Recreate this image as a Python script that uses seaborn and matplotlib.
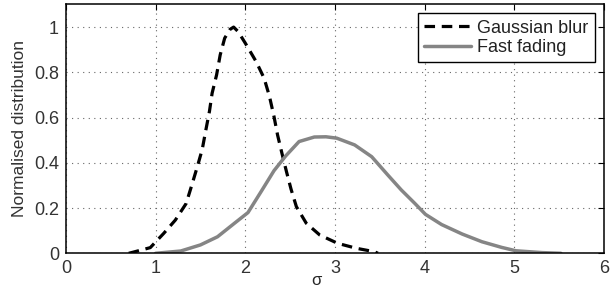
import matplotlib
matplotlib.use("Agg")
import matplotlib.pyplot as plt
import seaborn as sns
import pandas as pd

# Data
gauss_x = [0.70, 0.74, 0.94, 1.09, 1.22, 1.34, 1.41, 1.47, 1.52, 1.56, 1.60, 1.63, 1.68,
           1.72, 1.77, 1.83, 1.87, 1.92, 2.00, 2.12, 2.21, 2.27, 2.32, 2.36, 2.41, 2.46,
           2.51, 2.57, 2.68, 2.83, 3.03, 3.24, 3.44, 3.48]
gauss_y = [0.0, 0.004, 0.025, 0.088, 0.147, 0.22, 0.31, 0.39, 0.46, 0.545, 0.627, 0.708,
           0.789, 0.877, 0.951, 0.99, 1.0, 0.98, 0.929, 0.848, 0.774, 0.693, 0.605, 0.523,
           0.44, 0.36, 0.284, 0.206, 0.133, 0.081, 0.044, 0.022, 0.007, 0.0]
fade_x = [1.00, 1.28, 1.50, 1.69, 1.88, 2.03, 2.18, 2.32, 2.45, 2.60, 2.77, 2.90, 3.02,
          3.22, 3.41, 3.59, 3.74, 3.89, 4.01, 4.19, 4.42, 4.64, 4.86, 5.02, 5.31, 5.52]
fade_y = [0.0, 0.01, 0.037, 0.073, 0.133, 0.18, 0.275, 0.365, 0.43, 0.494, 0.514, 0.515,
          0.509, 0.479, 0.427, 0.346, 0.28, 0.221, 0.172, 0.127, 0.085, 0.051, 0.026,
          0.011, 0.003, 0.0]
series_names = ["Gaussian blur", "Fast fading"]
xticks = [0, 1, 2, 3, 4, 5, 6]
yticks = [0, 0.2, 0.4, 0.6, 0.8, 1]
ytick_labels = ["0", "0.2", "0.4", "0.6", "0.8", "1"]

df_g = pd.DataFrame({"x": gauss_x, "y": gauss_y})
df_f = pd.DataFrame({"x": fade_x, "y": fade_y})

sns.set_style("white")
plt.rcParams["font.family"] = ["Liberation Sans", "DejaVu Sans"]

fig = plt.figure(figsize=(6.14, 2.90), dpi=100)
ax = fig.add_axes([0.1075, 0.1266, 0.876, 0.858])

sns.lineplot(data=df_g, x="x", y="y", ax=ax, color="black", lw=2.3,
             linestyle=(0, (3.3, 2.1)), label=series_names[0], sort=False)
sns.lineplot(data=df_f, x="x", y="y", ax=ax, color="#858585", lw=2.5,
             label=series_names[1], sort=False)

ax.set_xlim(0, 6)
ax.set_ylim(0, 1.1)
ax.set_xticks(xticks)
ax.set_yticks(yticks)
ax.set_yticklabels(ytick_labels)
ax.grid(True, linestyle=(0, (1, 4)), color="#666666", lw=0.8)
ax.tick_params(direction="in", top=True, right=True, length=4, width=0.8,
               labelsize=13, colors="black", pad=5)
for t in ax.get_xticklabels() + ax.get_yticklabels():
    t.set_color("#333333")
for s in ax.spines.values():
    s.set_color("black")
    s.set_linewidth(1.1)
ax.set_xlabel("σ", fontsize=12)
ax.xaxis.set_label_coords(0.466, -0.078)
ax.set_ylabel("Normalised distribution", fontsize=12.5, color="#333333", labelpad=5)

leg = ax.legend(loc="upper right", fontsize=13, frameon=True, fancybox=False,
                handlelength=2.6, borderpad=0.35, labelspacing=0.12,
                handletextpad=0.35, borderaxespad=0.5)
leg.get_frame().set_edgecolor("black")
leg.get_frame().set_linewidth(1.0)
leg.get_frame().set_alpha(1)
for t in leg.get_texts():
    t.set_color("#222222")

fig.savefig("out.png", dpi=100)
